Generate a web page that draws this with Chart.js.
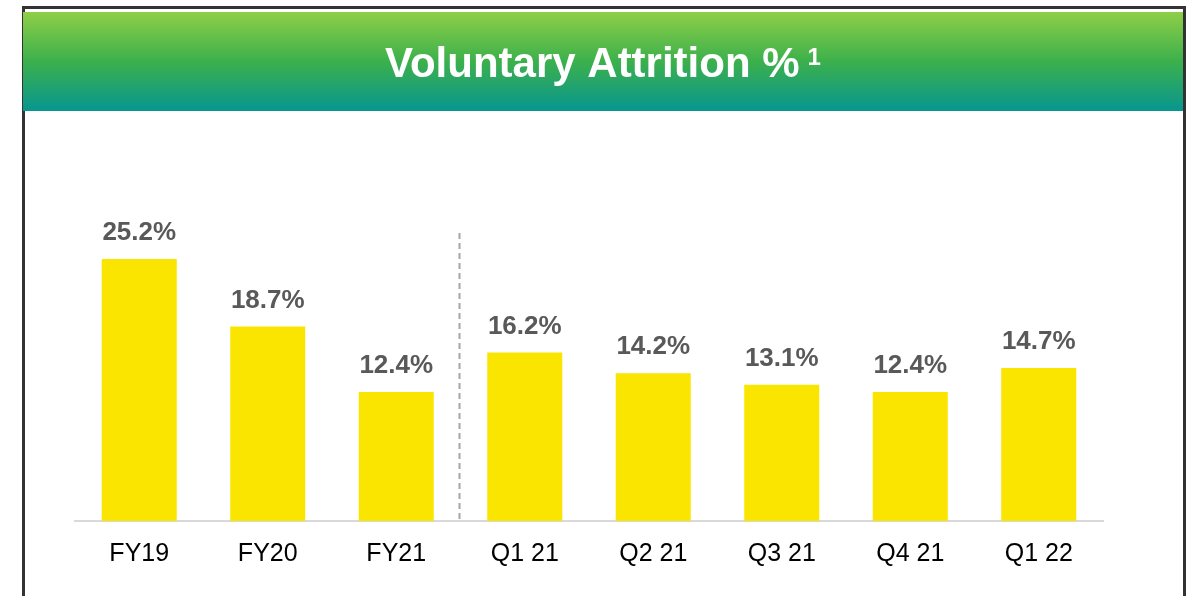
<!DOCTYPE html>
<html>
<head>
<meta charset="utf-8">
<title>Voluntary Attrition %</title>
<script src="https://cdn.jsdelivr.net/npm/chart.js@4.4.1/dist/chart.umd.min.js"></script>
<style>
  html, body { margin: 0; padding: 0; background: #fff; }
  #wrap { width: 1196px; height: 596px; position: relative; }
</style>
</head>
<body>
<div id="wrap"><canvas id="attritionChart" width="1196" height="596"></canvas></div>
<script>
// ---- DATA ----
const periods = ["FY19", "FY20", "FY21", "Q1 21", "Q2 21", "Q3 21", "Q4 21", "Q1 22"];
const attritionPct = [25.2, 18.7, 12.4, 16.2, 14.2, 13.1, 12.4, 14.7];
const chartTitle = "Voluntary Attrition %";
const titleNote = "1";
const dividerAfterIndex = 2;   // dashed line between FY21 and Q1 21
const dividerTopValue = 27.7;  // top of the dashed line, in % units

const FONT = "'Liberation Sans', Arial, sans-serif";

// frame + green header behind the chart
const framePlugin = {
    id: "frame",
    beforeDraw(chart) {
        const ctx = chart.ctx;
        ctx.save();
        ctx.fillStyle = "#ffffff";
        ctx.fillRect(0, 0, chart.width, chart.height);

        // outer border (top, left, right)
        ctx.strokeStyle = "#333333";
        ctx.lineWidth = 3;
        ctx.beginPath();
        ctx.moveTo(23.5, chart.height);
        ctx.lineTo(23.5, 7.5);
        ctx.lineTo(1184.5, 7.5);
        ctx.lineTo(1184.5, chart.height);
        ctx.stroke();

        // header band
        const g = ctx.createLinearGradient(0, 12, 0, 111);
        g.addColorStop(0, "#8ecf47");
        g.addColorStop(0.5, "#3cb04c");
        g.addColorStop(1, "#079690");
        ctx.fillStyle = g;
        ctx.fillRect(23, 12, 1160, 99);

        // title
        ctx.fillStyle = "#ffffff";
        ctx.textBaseline = "alphabetic";
        ctx.textAlign = "left";
        ctx.font = "bold 42px " + FONT;
        const w = ctx.measureText(chartTitle).width;
        ctx.font = "bold 24px " + FONT;
        const wn = ctx.measureText(titleNote).width;
        const total = w + 8 + wn;
        const x0 = 603 - total / 2;
        ctx.font = "bold 42px " + FONT;
        ctx.fillText(chartTitle, x0, 77);
        ctx.font = "bold 24px " + FONT;
        ctx.fillText(titleNote, x0 + w + 8, 65);
        ctx.restore();
    }
};

// value labels above bars + dashed divider
const labelPlugin = {
    id: "valueLabels",
    afterDatasetsDraw(chart) {
        const ctx = chart.ctx;
        const meta = chart.getDatasetMeta(0);
        ctx.save();
        ctx.font = "bold 26px " + FONT;
        ctx.fillStyle = "#595959";
        ctx.textAlign = "center";
        ctx.textBaseline = "middle";
        meta.data.forEach((bar, i) => {
            ctx.fillText(attritionPct[i].toFixed(1) + "%", bar.x, bar.y - 26);
        });

        const xs = chart.scales.x;
        const ys = chart.scales.y;
        const xd = Math.round((xs.getPixelForValue(dividerAfterIndex) + xs.getPixelForValue(dividerAfterIndex + 1)) / 2) - 1.5;
        ctx.strokeStyle = "#a6a6a6";
        ctx.lineWidth = 2;
        ctx.setLineDash([6, 4]);
        ctx.beginPath();
        ctx.moveTo(xd, ys.getPixelForValue(dividerTopValue));
        ctx.lineTo(xd, chart.chartArea.bottom);
        ctx.stroke();
        ctx.restore();
    }
};

const ctx = document.getElementById("attritionChart").getContext("2d");

new Chart(ctx, {
    type: "bar",
    data: {
        labels: periods,
        datasets: [{
            data: attritionPct,
            backgroundColor: "#fae500",
            borderWidth: 0,
            categoryPercentage: 1.0,
            barPercentage: 0.584
        }]
    },
    options: {
        responsive: false,
        animation: false,
        layout: {
            padding: { left: 75, right: 93, top: 209, bottom: 9 }
        },
        plugins: {
            legend: { display: false },
            title: { display: false },
            tooltip: { enabled: false }
        },
        scales: {
            x: {
                grid: { display: false, drawTicks: false },
                border: { display: true, color: "#d9d9d9", width: 2 },
                ticks: {
                    color: "#000000",
                    font: { family: FONT, size: 25 },
                    padding: 18
                }
            },
            y: {
                display: false,
                min: 0,
                max: 30
            }
        }
    },
    plugins: [framePlugin, labelPlugin]
});
</script>
</body>
</html>
